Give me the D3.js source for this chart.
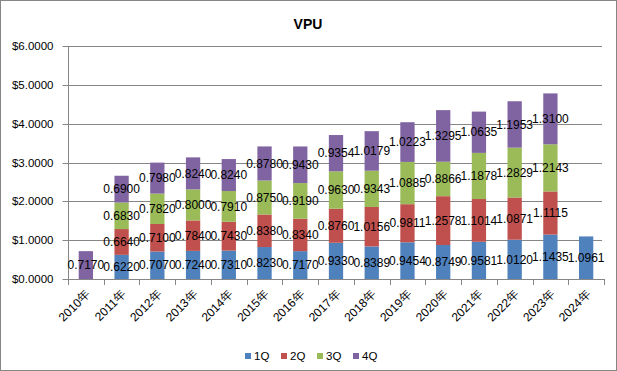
<!DOCTYPE html>
<html><head><meta charset="utf-8">
<script src="https://cdn.jsdelivr.net/npm/d3@7"></script>
<style>body{margin:0;background:#fff}svg{display:block}</style>
</head><body>
<svg id="c" width="617" height="371"></svg>
<script>
const categories = ["2010年","2011年","2012年","2013年","2014年","2015年","2016年","2017年","2018年","2019年","2020年","2021年","2022年","2023年","2024年"];
const seriesNames = ["1Q","2Q","3Q","4Q"];
const q1 = [null,0.6220,0.7070,0.7240,0.7310,0.8230,0.7170,0.9330,0.8389,0.9454,0.8749,0.9581,1.0120,1.1435,1.0961];
const q2 = [null,0.6640,0.7100,0.7840,0.7430,0.8380,0.8340,0.8760,1.0156,0.9811,1.2578,1.1014,1.0871,1.1115,null];
const q3 = [null,0.6830,0.7820,0.8000,0.7910,0.8750,0.9190,0.9630,0.9343,1.0885,0.8866,1.1878,1.2829,1.2143,null];
const q4 = [0.7170,0.6900,0.7980,0.8240,0.8240,0.8780,0.9430,0.9354,1.0179,1.0223,1.3295,1.0635,1.1953,1.3100,null];
const yTicks = [0,1,2,3,4,5,6];
const colors = ["#4F81BD","#C0504D","#9BBB59","#8064A2"];
const title = "VPU";

const svg = d3.select("#c");
const W = 617, H = 371;
const m = {l:68, r:13, t:46, b:92};
const font = "'Liberation Sans', Arial, sans-serif";

svg.append("rect").attr("x",0.5).attr("y",0.5).attr("width",W-1).attr("height",H-1)
  .attr("fill","#fff").attr("stroke","#868686");

const x = d3.scaleBand().domain(categories).range([m.l, W-m.r]).paddingInner(0.6).paddingOuter(0.3);
const xb = d3.scaleBand().domain(categories).range([m.l, W-m.r]);
const y = d3.scaleLinear().domain([0,6]).range([H-m.b, m.t]);

// gridlines
svg.append("g").selectAll("line").data(yTicks.filter(d=>d>0)).join("line")
  .attr("x1",m.l).attr("x2",W-m.r-2).attr("y1",d=>Math.round(y(d))+0.5).attr("y2",d=>Math.round(y(d))+0.5)
  .attr("stroke","#868686").attr("stroke-width",1);

const data = categories.map((c,i)=>({cat:c, vals:[q1[i],q2[i],q3[i],q4[i]]}));
const stack = d3.stack().keys([0,1,2,3]).value((d,k)=>d.vals[k]||0)(data);

stack.forEach((layer,k)=>{
  svg.append("g").selectAll("rect").data(layer.filter(d=>d.data.vals[k]!=null)).join("rect")
    .attr("x",d=>x(d.data.cat)).attr("width",x.bandwidth())
    .attr("y",d=>y(d[1])).attr("height",d=>y(d[0])-y(d[1]))
    .attr("fill",colors[k]);
});

// axes
const yAxis = svg.append("g").attr("transform",`translate(${m.l+0.5},0)`)
  .call(d3.axisLeft(y).tickValues(yTicks).tickSize(6).tickFormat(d=>"$"+d3.format(".4f")(d)));
yAxis.select(".domain").attr("stroke","#868686").attr("d",`M-0,${y(6)}V${y(0)}`);
yAxis.selectAll(".tick line").attr("stroke","#868686");
yAxis.selectAll(".tick").attr("transform",d=>`translate(0,${Math.round(y(d))+0.5})`);
yAxis.selectAll("text").attr("font-family",font).attr("font-size","11.5px").attr("fill","#000").attr("x",-15);

const xg = svg.append("g");
xg.append("line").attr("x1",m.l).attr("x2",W-m.r).attr("y1",Math.round(y(0))+0.5).attr("y2",Math.round(y(0))+0.5).attr("stroke","#868686");
const bounds = categories.map(c=>xb(c)).concat([W-m.r]);
xg.selectAll("line.t").data(bounds).join("line").attr("class","t")
  .attr("x1",d=>Math.round(d)+0.5).attr("x2",d=>Math.round(d)+0.5)
  .attr("y1",Math.round(y(0))).attr("y2",Math.round(y(0))+6).attr("stroke","#868686");
xg.selectAll("text").data(categories).join("text")
  .attr("transform",d=>`translate(${xb(d)+xb.bandwidth()/2+5},${y(0)+16}) rotate(-45)`)
  .attr("text-anchor","end").attr("font-family",font).attr("font-size","12px").attr("fill","#000")
  .text(d=>d);

// data labels
stack.forEach((layer,k)=>{
  svg.append("g").selectAll("text").data(layer.filter(d=>d.data.vals[k]!=null)).join("text")
    .attr("x",d=>x(d.data.cat)+x.bandwidth()/2)
    .attr("y",d=>(y(d[0])+y(d[1]))/2)
    .attr("dy","0.35em").attr("text-anchor","middle")
    .attr("font-family",font).attr("font-size","12px").attr("fill","#000")
    .text(d=>d3.format(".4f")(d.data.vals[k]));
});

// title
svg.append("text").attr("x",308).attr("y",29).attr("text-anchor","middle")
  .attr("font-family",font).attr("font-weight","bold").attr("font-size","14px").text(title);

// legend
const lg = svg.append("g").attr("transform","translate(245,356)");
const lx = [0,36,72,108];
seriesNames.forEach((n,i)=>{
  const g = lg.append("g").attr("transform",`translate(${lx[i]},0)`);
  g.append("rect").attr("x",0).attr("y",-3).attr("width",6).attr("height",6).attr("fill",colors[i]);
  g.append("text").attr("x",9).attr("y",0).attr("dy","0.35em").attr("font-family",font).attr("font-size","11.5px").text(n);
});
</script>
</body></html>
